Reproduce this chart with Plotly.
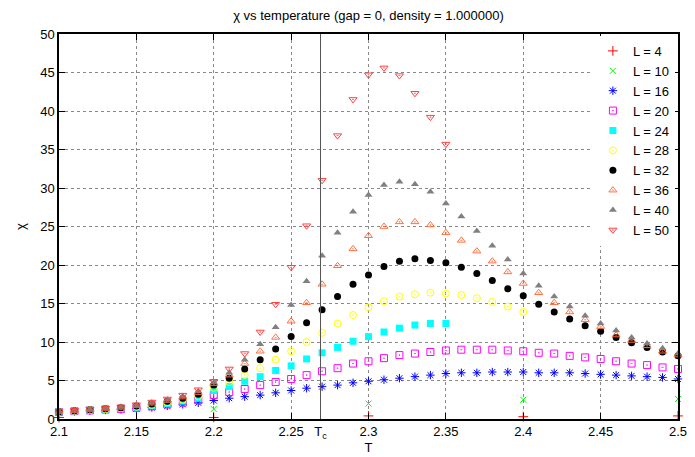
import plotly.graph_objects as go

TC = 2.269

T_ALL = [2.10, 2.11, 2.12, 2.13, 2.14, 2.15, 2.16, 2.17, 2.18, 2.19,
         2.20, 2.21, 2.22, 2.23, 2.24, 2.25, 2.26, 2.27, 2.28, 2.29,
         2.30, 2.31, 2.32, 2.33, 2.34, 2.35, 2.36, 2.37, 2.38, 2.39,
         2.40, 2.41, 2.42, 2.43, 2.44, 2.45, 2.46, 2.47, 2.48, 2.49, 2.50]
T_COARSE = [2.1, 2.2, 2.3, 2.4, 2.5]

chi_L4 = [0.2, 0.2, 0.4, 0.3, 0.4]
chi_L10 = [0.8, 1.3, 2.0, 2.5, 2.6]
chi_L16 = [0.90, 1.00, 1.08, 1.18, 1.25, 1.35, 1.50, 1.70, 1.90, 2.10,
           2.40, 2.70, 2.90, 3.10, 3.40, 3.70, 4.00, 4.20, 4.40, 4.70,
           4.90, 5.10, 5.30, 5.50, 5.70, 5.90, 6.00, 6.00, 6.10, 6.10,
           6.10, 6.00, 6.00, 6.00, 5.90, 5.80, 5.70, 5.60, 5.50, 5.40, 5.20]
chi_L20 = [0.91, 1.02, 1.12, 1.23, 1.32, 1.45, 1.64, 1.88, 2.14, 2.44,
           3.10, 3.50, 3.90, 4.40, 4.80, 5.20, 5.70, 6.20, 6.60, 7.20,
           7.50, 7.90, 8.30, 8.50, 8.70, 8.90, 9.00, 9.00, 9.00, 8.90,
           8.80, 8.60, 8.50, 8.20, 8.00, 7.80, 7.50, 7.20, 7.00, 6.70, 6.50]
chi_L24 = [0.92, 1.04, 1.15, 1.26, 1.37, 1.52, 1.75, 2.02, 2.32, 2.70,
           3.70, 4.20, 4.90, 5.50, 6.30, 6.90, 7.80, 8.60, 9.30, 10.1,
           10.7, 11.3, 11.8, 12.2, 12.4, 12.4]
chi_L28 = [0.93, 1.06, 1.18, 1.30, 1.42, 1.60, 1.85, 2.15, 2.50, 2.95,
           4.05, 4.80, 5.70, 6.60, 7.70, 8.80, 10.0, 11.2, 12.4, 13.5,
           14.5, 15.3, 15.9, 16.2, 16.4, 16.3, 16.1, 15.7, 15.2, 14.6,
           13.9]
chi_L32 = [0.95, 1.08, 1.20, 1.34, 1.46, 1.68, 1.96, 2.29, 2.68, 3.20,
           4.40, 5.30, 6.50, 7.70, 9.10, 10.7, 12.5, 14.2, 15.9, 17.5,
           18.7, 19.8, 20.5, 20.8, 20.6, 20.3, 19.7, 18.9, 18.0, 16.9,
           16.0, 14.9, 13.9, 13.0, 12.1, 11.4, 10.6, 9.90, 9.30, 8.70, 8.20]
chi_L36 = [0.96, 1.09, 1.23, 1.37, 1.51, 1.74, 2.05, 2.40, 2.84, 3.43,
           4.60, 5.70, 7.20, 8.80, 10.6, 12.7, 15.1, 17.5, 19.9, 22.1,
           23.8, 25.0, 25.6, 25.6, 25.2, 24.2, 23.2, 21.8, 20.5, 19.1,
           17.6, 16.4, 15.1, 13.9, 12.9, 12.0, 10.9, 10.2, 9.50, 8.80, 8.30]
chi_L40 = [0.97, 1.11, 1.25, 1.40, 1.55, 1.80, 2.12, 2.50, 2.96, 3.60,
           4.75, 6.00, 7.70, 9.70, 11.9, 14.8, 17.9, 21.2, 24.2, 26.9,
           29.1, 30.4, 30.8, 30.5, 29.5, 28.0, 26.3, 24.4, 22.5, 20.7,
           18.9, 17.3, 15.9, 14.6, 13.4, 12.4, 11.5, 10.6, 9.80, 9.20, 8.50]
chi_L50 = [0.97, 1.12, 1.27, 1.42, 1.58, 1.85, 2.20, 2.60, 3.10, 3.80,
           4.90, 6.50, 8.50, 11.3, 14.9, 19.7, 25.1, 31.0, 36.8, 41.5,
           44.7, 45.6, 44.6, 42.3, 39.2, 35.7]

X_TICKS = [2.1, 2.15, 2.2, 2.25, TC, 2.3, 2.35, 2.4, 2.45, 2.5]
X_TICKTEXT = ["2.1", "2.15", "2.2", "2.25", "T<sub>c</sub>", "2.3", "2.35", "2.4", "2.45", "2.5"]
Y_TICKS = [0, 5, 10, 15, 20, 25, 30, 35, 40, 45, 50]

series = [
    ("L = 4", T_COARSE, chi_L4, dict(symbol="cross-thin", size=7, color="#ff0000",
                                      line=dict(color="#ff0000", width=1))),
    ("L = 10", T_COARSE, chi_L10, dict(symbol="x-thin", size=6, color="#00ff00",
                                        line=dict(color="#00ff00", width=1))),
    ("L = 16", T_ALL, chi_L16, dict(symbol="asterisk", size=7, color="#0000ff",
                                     line=dict(color="#0000ff", width=1))),
    ("L = 20", T_ALL, chi_L20, dict(symbol="square-open-dot", size=7, color="#ff00ff",
                                     line=dict(color="#ff00ff", width=1))),
    ("L = 24", T_ALL[:len(chi_L24)], chi_L24, dict(symbol="square", size=7, color="#00ffff",
                                                  line=dict(width=0))),
    ("L = 28", T_ALL[:len(chi_L28)], chi_L28, dict(symbol="circle-open-dot", size=7, color="#ffff00",
                                                  line=dict(color="#ffff00", width=1))),
    ("L = 32", T_ALL, chi_L32, dict(symbol="circle", size=7, color="#000000",
                                     line=dict(width=0))),
    ("L = 36", T_ALL, chi_L36, dict(symbol="triangle-up-open-dot", size=7, color="#ff7040",
                                     line=dict(color="#ff7040", width=1))),
    ("L = 40", T_ALL, chi_L40, dict(symbol="triangle-up", size=7, color="#808080",
                                     line=dict(width=0))),
    ("L = 50", T_ALL[:len(chi_L50)], chi_L50, dict(symbol="triangle-down-open-dot", size=7,
                                                  color="#ff4040",
                                                  line=dict(color="#ff4040", width=1))),
]

fig = go.Figure()
for name, xs, ys, mk in series:
    fig.add_trace(go.Scatter(x=xs, y=ys, mode="markers", name=name, marker=mk,
                             cliponaxis=False))

fig.add_shape(type="line", x0=TC, x1=TC, y0=0, y1=1, xref="x", yref="paper",
              line=dict(color="#555555", width=1), layer="above")

axis_common = dict(
    showline=True, linecolor="black", linewidth=1.5, mirror="allticks",
    ticks="inside", ticklen=6, tickcolor="black", tickwidth=1,
    showgrid=True, gridcolor="#888888", griddash="dot", gridwidth=1,
    zeroline=False, automargin=False, ticklabeloverflow="allow",
    tickfont=dict(family="Liberation Sans, Arial", size=13, color="black"),
)

# The page body adds an 8px offset, so the figure is sized to fit the window.
fig.update_layout(
    width=687, height=449,
    margin=dict(l=51, r=17, t=26, b=38),
    paper_bgcolor="white", plot_bgcolor="white",
    font=dict(family="Liberation Sans, Arial", size=13, color="black"),
    title=dict(text="χ vs temperature (gap = 0, density = 1.000000)",
               x=0.5, xref="paper", xanchor="center", y=0.983, yanchor="middle",
               font=dict(size=13)),
    xaxis=dict(range=[2.1, 2.5], tickvals=X_TICKS, ticktext=X_TICKTEXT,
               title=dict(text="T", standoff=3, font=dict(size=13)), **axis_common),
    yaxis=dict(range=[0, 50], tickvals=Y_TICKS,
               title=dict(text="χ", standoff=12, font=dict(size=13)), **axis_common),
    legend=dict(x=0.995, y=0.995, xanchor="right", yanchor="top",
                bgcolor="white", borderwidth=0, font=dict(size=13),
                itemsizing="trace", tracegroupgap=0, itemwidth=30),
    showlegend=True,
)

fig.write_html("out.html")
